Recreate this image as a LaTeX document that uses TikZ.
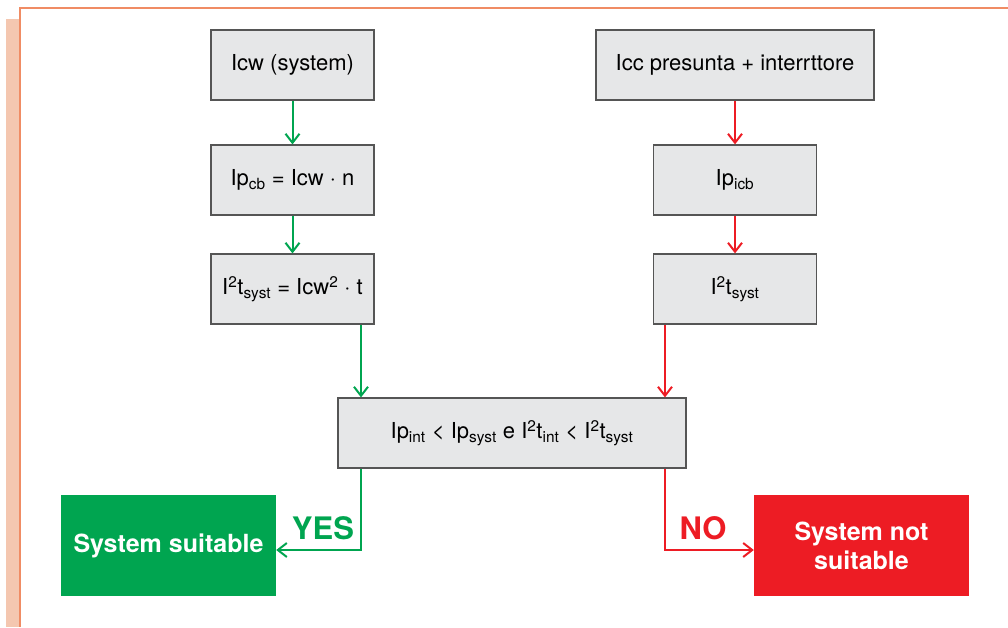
\documentclass[tikz,border=0pt]{standalone}
\usepackage{fontspec}
\setmainfont{TeX Gyre Heros}
\usetikzlibrary{arrows.meta}
\definecolor{okgreen}{RGB}{0,165,80}
\definecolor{kored}{RGB}{237,28,36}
\definecolor{boxfill}{RGB}{230,231,232}
\definecolor{boxline}{RGB}{85,85,85}
\definecolor{frameline}{RGB}{240,140,100}
\definecolor{framestrip}{RGB}{244,199,176}
\begin{document}
\begin{tikzpicture}[x=1pt, y=-1pt,
    box_style/.style={draw=boxline, fill=boxfill, line width=1.2pt, minimum height=70pt,
        inner sep=0pt, font=\fontsize{22}{26}\selectfont},
    end_style/.style={minimum width=215pt, minimum height=101pt, inner sep=0pt, text=white,
        align=center, font=\fontsize{25}{29}\selectfont\bfseries},
    green_arrow/.style={okgreen, line width=2pt, -{Straight Barb[length=9pt,width=14pt]}},
    red_arrow/.style={kored, line width=2pt, -{Straight Barb[length=9pt,width=14pt]}}
]
\useasboundingbox (0,0) rectangle (1008,627);
% cornice
\fill[framestrip] (6,19) rectangle (19,627);
\draw[frameline, line width=2pt] (1008,8) -- (19.5,8) -- (19.5,627);
% colonna sinistra (sistema)
\node[box_style, minimum width=163pt] (icw) at (292.5,65) {Icw (system)};
\node[box_style, minimum width=163pt] (ipcb) at (292.5,180) {Ip\textsubscript{cb} = Icw · n};
\node[box_style, minimum width=163pt] (itl) at (292.5,289) {I\textsuperscript{2}t\textsubscript{syst} = Icw\textsuperscript{2} · t};
% colonna destra (interruttore)
\node[box_style, minimum width=278pt] (icc) at (735,65) {Icc presunta + interrttore};
\node[box_style, minimum width=163pt] (ipicb) at (735,180) {Ip\textsubscript{icb}};
\node[box_style, minimum width=163pt] (itr) at (735,289) {I\textsuperscript{2}t\textsubscript{syst}};
% verifica
\node[box_style, minimum width=348pt] (cond) at (512,433)
    {Ip\textsubscript{int} < Ip\textsubscript{syst} e I\textsuperscript{2}t\textsubscript{int} < I\textsuperscript{2}t\textsubscript{syst}};
% esiti
\node[end_style, fill=okgreen] (ok) at (168.5,545.5) {System suitable};
\node[end_style, fill=kored] (ko) at (861.5,545.5) {System not\\suitable};
\coordinate (gx) at (361,0);
\coordinate (rx) at (665,0);
\coordinate (ay) at (0,550);
\draw[green_arrow] (icw) -- (ipcb);
\draw[green_arrow] (ipcb) -- (itl);
\draw[green_arrow] (itl.south -| gx) -- (cond.north -| gx);
\draw[red_arrow] (icc) -- (ipicb);
\draw[red_arrow] (ipicb) -- (itr);
\draw[red_arrow] (itr.south -| rx) -- (cond.north -| rx);
\draw[green_arrow] (cond.south -| gx) |- (ok.east |- ay);
\draw[red_arrow] (cond.south -| rx) |- (ko.west |- ay);
\node[okgreen, font=\fontsize{31}{34}\selectfont\bfseries] (yes) at (323,528) {YES};
\node[kored, font=\fontsize{31}{34}\selectfont\bfseries] (no) at (703,528) {NO};
\end{tikzpicture}
\end{document}
